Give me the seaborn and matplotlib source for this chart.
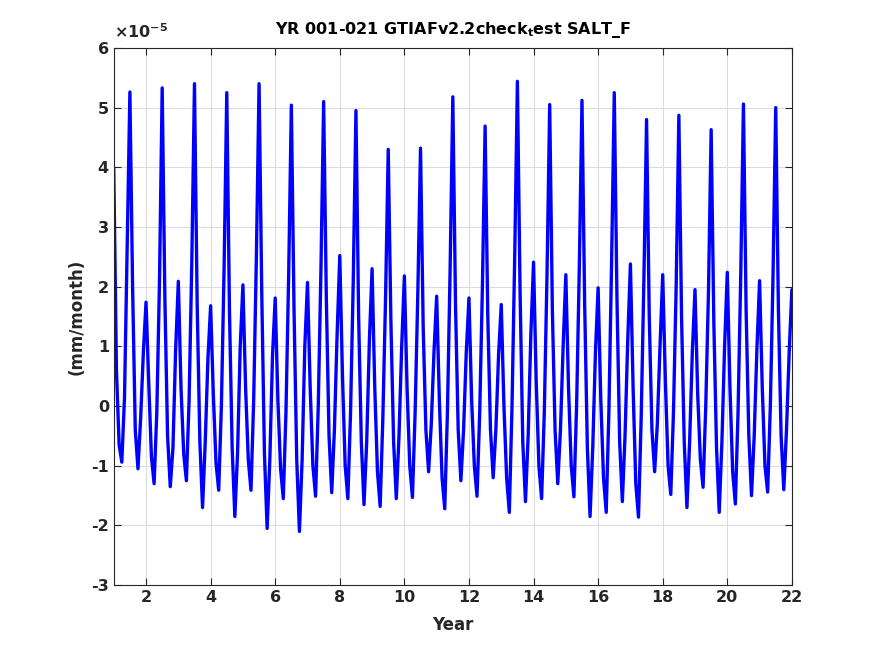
import numpy as np
import pandas as pd
import matplotlib
matplotlib.use("Agg")
import matplotlib.pyplot as plt
import seaborn as sns

# monthly samples, values in units of 1e-5 mm/month
yr01 = [3.98, 0.60, -0.65, -0.94, 0.15, 2.70, 5.26, 2.00, -0.40, -1.05, -0.20, 0.90]
yr02 = [1.74, 0.40, -0.85, -1.30, -0.10, 2.10, 5.33, 1.80, -0.50, -1.35, -0.70, 0.95]
yr03 = [2.09, 0.30, -0.80, -1.25, 0.10, 2.40, 5.40, 1.70, -0.60, -1.70, -0.60, 0.80]
yr04 = [1.68, 0.20, -0.95, -1.41, 0.00, 2.30, 5.25, 1.60, -0.70, -1.85, -0.80, 1.00]
yr05 = [2.03, 0.30, -0.90, -1.41, 0.10, 2.50, 5.40, 1.90, -0.80, -2.05, -0.90, 0.85]
yr06 = [1.81, 0.10, -1.05, -1.55, -0.10, 2.20, 5.04, 1.60, -0.90, -2.10, -0.90, 1.00]
yr07 = [2.07, 0.30, -1.00, -1.51, 0.00, 2.30, 5.10, 1.80, -0.50, -1.45, -0.40, 1.20]
yr08 = [2.52, 0.50, -1.00, -1.55, -0.10, 2.10, 4.95, 1.50, -0.60, -1.65, -0.60, 1.10]
yr09 = [2.30, 0.30, -1.10, -1.68, -0.20, 1.80, 4.30, 1.40, -0.60, -1.55, -0.50, 1.00]
yr10 = [2.18, 0.30, -1.00, -1.53, -0.10, 1.90, 4.32, 1.30, -0.40, -1.10, -0.30, 0.90]
yr11 = [1.84, 0.10, -1.20, -1.72, -0.10, 2.30, 5.18, 1.70, -0.40, -1.25, -0.40, 0.90]
yr12 = [1.81, 0.10, -1.00, -1.51, -0.10, 2.00, 4.69, 1.50, -0.40, -1.20, -0.40, 0.85]
yr13 = [1.70, 0.00, -1.20, -1.78, 0.00, 2.50, 5.44, 1.90, -0.60, -1.60, -0.50, 1.20]
yr14 = [2.41, 0.40, -1.00, -1.55, -0.10, 2.20, 5.05, 1.60, -0.40, -1.30, -0.40, 1.00]
yr15 = [2.20, 0.30, -1.00, -1.52, 0.00, 2.30, 5.12, 1.70, -0.70, -1.85, -0.70, 0.90]
yr16 = [1.98, 0.10, -1.20, -1.78, -0.10, 2.40, 5.25, 1.80, -0.60, -1.60, -0.50, 1.10]
yr17 = [2.38, 0.30, -1.30, -1.86, -0.20, 2.10, 4.80, 1.50, -0.40, -1.10, -0.30, 1.00]
yr18 = [2.20, 0.40, -1.00, -1.48, -0.10, 2.00, 4.87, 1.50, -0.60, -1.70, -0.60, 0.90]
yr19 = [1.95, 0.20, -0.90, -1.36, 0.00, 1.90, 4.63, 1.40, -0.70, -1.78, -0.60, 1.00]
yr20 = [2.24, 0.30, -1.10, -1.64, -0.10, 2.20, 5.06, 1.60, -0.50, -1.50, -0.50, 0.95]
yr21 = [2.10, 0.30, -1.00, -1.44, 0.00, 2.20, 5.00, 1.60, -0.50, -1.40, -0.40, 0.90]
last_val = [1.95]

salt_f = yr01 + yr02 + yr03 + yr04 + yr05 + yr06 + yr07 + yr08 + yr09 + yr10 + yr11 + \
    yr12 + yr13 + yr14 + yr15 + yr16 + yr17 + yr18 + yr19 + yr20 + yr21 + last_val
years = 1 + np.arange(len(salt_f)) / 12.0

df = pd.DataFrame({"Year": years, "SALT_F": salt_f})

sns.set_style("ticks")
plt.rcParams["font.family"] = ["DejaVu Sans"]
plt.rcParams["font.weight"] = "bold"
plt.rcParams["axes.labelweight"] = "bold"
plt.rcParams["axes.titleweight"] = "bold"
plt.rcParams["axes.unicode_minus"] = False

fig = plt.figure(figsize=(8.75, 6.56), dpi=100)
ax = fig.add_axes([0.13, 0.108, 0.775, 0.819])

sns.lineplot(data=df, x="Year", y="SALT_F", color=(0, 0, 1), linewidth=2.4, ax=ax)

ax.set_xlim(1, 22)
ax.set_ylim(-3, 6)
ax.set_xticks(range(2, 23, 2))
ax.set_yticks(range(-3, 7))
ax.grid(True, color="#dcdcdc", linewidth=0.8)
ax.set_axisbelow(True)
for s in ax.spines.values():
    s.set_color("#262626")
    s.set_linewidth(0.8)
ax.tick_params(direction="in", top=True, right=True, length=5, width=0.8,
               colors="#262626", labelsize=11.5)

ax.set_xlabel("Year", fontsize=12, color="#262626", labelpad=8)
ax.set_ylabel("(mm/month)", fontsize=12, color="#262626", labelpad=4)
ax.set_title(r"YR 001-021 GTIAFv2.2check$_{\mathbf{t}}$est SALT_F", fontsize=11.5,
             color="black", pad=10)
ax.text(0.0, 1.012, r"$\times\mathbf{10^{-5}}$", transform=ax.transAxes,
        fontsize=11.5, color="#262626", ha="left", va="bottom")

fig.savefig("out.png", dpi=100, facecolor="white")
